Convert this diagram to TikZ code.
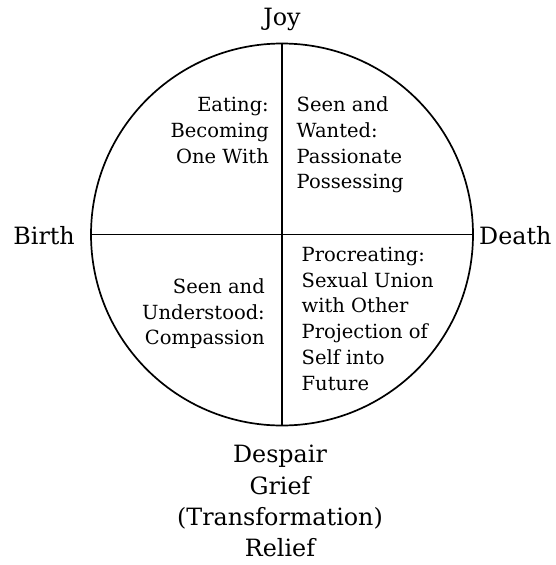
\documentclass[tikz,border=0pt]{standalone}
\usepackage{fontspec}
\setmainfont{DejaVu Serif}
\tikzset{
  x=1pt, y=-1pt,
  ring/.style={circle, draw, line width=1.7pt, minimum size=382pt, inner sep=0pt},
  divider/.style={line width=1.7pt},
  lab/.style={inner sep=0pt, font=\fontsize{23.8}{31.3}\selectfont},
  quad/.style={inner sep=0pt, font=\fontsize{19.5}{25.7}\selectfont},
}
\begin{document}
\begin{tikzpicture}
\useasboundingbox (0,0) rectangle (556,565);
\node[ring] (c) at (282,234.5) {};
\draw[divider] (c.north) -- (c.south);
\draw[divider] (c.west) -- (c.east);
\node[lab, anchor=base] (joy) at (282,25) {Joy};
\node[lab, anchor=base east] (birth) at (75,244) {Birth};
\node[lab, anchor=base west] (death) at (479,244) {Death};
\node[lab, anchor=base] (despair) at (280,462.7) {\begin{tabular}[t]{@{}c@{}}Despair\\Grief\\(Transformation)\\Relief\end{tabular}};
\node[quad, anchor=base east] (tl) at (269,111.7) {\begin{tabular}[t]{@{}r@{}}Eating:\\Becoming\\One With\end{tabular}};
\node[quad, anchor=base west] (tr) at (296.5,111.7) {\begin{tabular}[t]{@{}l@{}}Seen and\\Wanted:\\Passionate\\Possessing\end{tabular}};
\node[quad, anchor=base east] (bl) at (265,293.3) {\begin{tabular}[t]{@{}r@{}}Seen and\\Understood:\\Compassion\end{tabular}};
\node[quad, anchor=base west] (br) at (301.5,261.5) {\begin{tabular}[t]{@{}l@{}}Procreating:\\Sexual Union\\with Other\\Projection of\\Self into\\Future\end{tabular}};
\end{tikzpicture}
\end{document}
